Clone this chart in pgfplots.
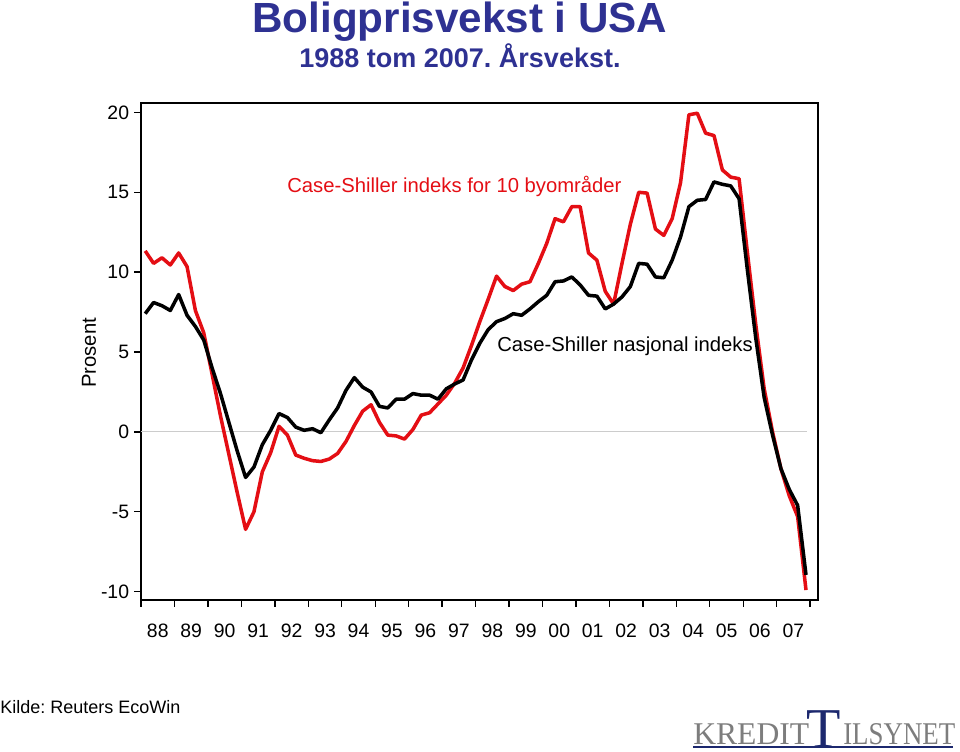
\documentclass[border=0pt]{standalone}
\usepackage{pgfplots}
\pgfplotsset{compat=1.18}
\usepackage{pgfplotstable}
\usepackage{fontspec}
\setmainfont{Liberation Sans}
\newfontfamily\logofont{Liberation Serif}
\frenchspacing

\definecolor{csred}{RGB}{228,14,20}
\definecolor{titleblue}{RGB}{46,49,146}
\definecolor{logogray}{RGB}{125,125,125}
\definecolor{logoblue}{RGB}{28,40,110}

% quarterly annual growth, t = mid-quarter
\pgfplotstableread{
t        red    black
1988.125 11.33  7.4
1988.375 10.55  8.1
1988.625 10.9   7.9
1988.875 10.45  7.6
1989.125 11.2   8.6
1989.375 10.35  7.3
1989.625 7.6    6.6
1989.875 6.2    5.75
1990.125 3.6    4.0
1990.375 1.0    2.4
1990.625 -1.4   0.6
1990.875 -3.8   -1.2
1991.125 -6.1   -2.85
1991.375 -5.0   -2.2
1991.625 -2.5   -0.8
1991.875 -1.3   0.1
1992.125 0.35   1.15
1992.375 -0.2   0.9
1992.625 -1.45  0.3
1992.875 -1.65  0.1
1993.125 -1.8   0.2
1993.375 -1.85  -0.05
1993.625 -1.7   0.75
1993.875 -1.35  1.5
1994.125 -0.6   2.6
1994.375 0.4    3.4
1994.625 1.3    2.8
1994.875 1.7    2.5
1995.125 0.6    1.6
1995.375 -0.2   1.5
1995.625 -0.25  2.05
1995.875 -0.45  2.05
1996.125 0.15   2.4
1996.375 1.05   2.3
1996.625 1.2    2.3
1996.875 1.75   2.05
1997.125 2.3    2.7
1997.375 3.05   3.0
1997.625 4.0    3.25
1997.875 5.4    4.5
1998.125 6.9    5.55
1998.375 8.3    6.4
1998.625 9.75   6.9
1998.875 9.1    7.1
1999.125 8.85   7.4
1999.375 9.25   7.3
1999.625 9.4    7.7
1999.875 10.55  8.15
2000.125 11.8   8.55
2000.375 13.35  9.4
2000.625 13.15  9.45
2000.875 14.1   9.7
2001.125 14.1   9.2
2001.375 11.2   8.55
2001.625 10.75  8.5
2001.875 8.8    7.7
2002.125 8.0    8.0
2002.375 10.55  8.45
2002.625 13.0   9.1
2002.875 15.0   10.55
2003.125 14.95  10.5
2003.375 12.7   9.7
2003.625 12.3   9.65
2003.875 13.35  10.75
2004.125 15.6   12.2
2004.375 19.85  14.1
2004.625 19.95  14.5
2004.875 18.7   14.55
2005.125 18.55  15.65
2005.375 16.4   15.5
2005.625 15.95  15.4
2005.875 15.85  14.6
2006.125 11.2   10.1
2006.375 6.7    5.85
2006.625 2.7    2.15
2006.875 0.0    -0.2
2007.125 -2.3   -2.3
2007.375 -4.0   -3.6
2007.625 -5.3   -4.6
2007.875 -9.9   -8.95
}\housing

\begin{document}
\begin{tikzpicture}[x=0.025cm,y=0.025cm]
\useasboundingbox (0,0) rectangle (960,751);

\begin{axis}[
    at={(3.525cm,3.775cm)}, anchor=south west,
    scale only axis,
    width=16.925cm, height=12.425cm,
    xmin=1988, xmax=2008.24,
    ymin=-10.52, ymax=20.6,
    axis line style={black, line width=1.1pt},
    tick style={black, line width=1pt},
    tick align=outside,
    major tick length=0.175cm,
    minor tick length=0.175cm,
    xtick pos=bottom, ytick pos=left,
    ytick={-10,-5,0,5,10,15,20},
    yticklabels={-10,-5,0,5,10,15,20},
    xtick={1988.5,1989.5,1990.5,1991.5,1992.5,1993.5,1994.5,1995.5,1996.5,1997.5,
           1998.5,1999.5,2000.5,2001.5,2002.5,2003.5,2004.5,2005.5,2006.5,2007.5},
    xticklabels={88,89,90,91,92,93,94,95,96,97,98,99,00,01,02,03,04,05,06,07},
    minor xtick={1988,1989,...,2008},
    major x tick style={draw=none},
    ticklabel style={font=\fontsize{13.8}{16}\selectfont},
    xticklabel style={yshift=-0.3cm},
]
\draw[black!20, line width=0.6pt] (axis cs:1988,0) -- (axis cs:2007.9,0);
\addplot[csred, line width=2.5pt, line join=round] table[x=t, y=red] {\housing};
\addplot[black, line width=2.5pt, line join=round] table[x=t, y=black] {\housing};
\end{axis}

\node[anchor=base, inner sep=0, text=titleblue, font=\bfseries\fontsize{30}{36}\selectfont] at (460,718) {Boligprisvekst i USA};
\node[anchor=base, inner sep=0, text=titleblue, font=\bfseries\fontsize{19.2}{23}\selectfont] at (460,683) {1988 tom 2007. Årsvekst.};

\node[anchor=base west, inner sep=0, text=csred, font=\fontsize{14.4}{17}\selectfont] at (287,558) {Case-Shiller indeks for 10 byområder};
\node[anchor=base west, inner sep=0, font=\fontsize{14.4}{17}\selectfont] at (497,399) {Case-Shiller nasjonal indeks};

\node[rotate=90, inner sep=0, font=\fontsize{14.4}{17}\selectfont] at (89,398) {Prosent};
\node[anchor=base west, inner sep=0, font=\fontsize{12.8}{15}\selectfont] at (0,38) {Kilde: Reuters EcoWin};

% logo
\draw[logoblue, line width=0.9pt] (693,4) -- (953,4);
\node[anchor=base west, inner sep=0, text=logogray, font=\logofont\fontsize{22.5}{26}\selectfont] at (693,7) {KREDIT};
\node[anchor=base west, inner sep=0, text=logoblue, font=\logofont\fontsize{40}{44}\selectfont] at (806,4) {T};
\node[anchor=base west, inner sep=0, text=logogray, font=\logofont\fontsize{22.5}{26}\selectfont] at (843,7) {\scalebox{0.85}[1]{ILSYNET}};
\end{tikzpicture}
\end{document}
